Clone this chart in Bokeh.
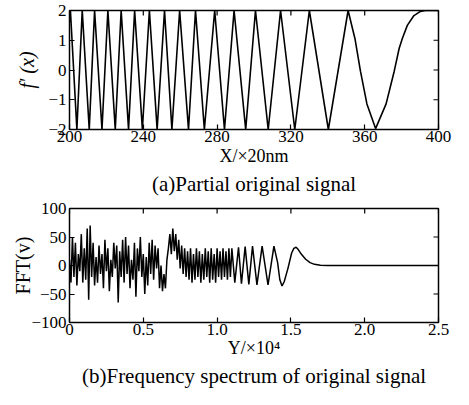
import math
from bokeh.plotting import figure
from bokeh.models import Range1d, FixedTicker, Title
from bokeh.layouts import column
from bokeh.embed import file_html
from bokeh.resources import INLINE

# ---------------- top panel: partial original signal ----------------
sig_x = [200.0, 200.5, 204.0, 206.9, 210.7, 213.6, 217.6, 220.8, 224.8, 228.0,
         232.0, 235.3, 239.5, 243.3, 247.5, 251.5, 255.5, 259.7, 264.5, 268.3,
         273.1, 278.7, 284.0, 289.2, 295.5, 300.8, 307.7, 314.4, 322.1, 330.0,
         340.3, 351.0, 354.7, 357.7, 361.2, 365.9, 371.6, 376.0, 378.7, 380.4,
         383.1, 386.7, 390.2, 392.9, 400.0]
sig_y = [1.6, 2.0, -2.0, 2.0, -2.0, 2.0, -2.0, 2.0, -2.0, 2.0,
         -2.0, 2.0, -2.0, 2.0, -2.0, 2.0, -2.0, 2.0, -2.0, 2.0,
         -2.0, 2.0, -2.0, 2.0, -2.0, 2.0, -2.0, 2.0, -2.0, 2.0,
         -2.0, 2.0, 1.06, -0.04, -1.14, -1.97, -1.14, -0.04, 0.73, 1.06,
         1.5, 1.83, 1.97, 2.0, 2.0]
top_xticks = [200, 240, 280, 320, 360, 400]
top_yticks = [-2, -1, 0, 1, 2]

# ---------------- bottom panel: frequency spectrum ----------------
fft_dense_step = 0.01
fft_dense_y = [10, -30, 50, -20, 40, -35, 20, -10, 55, -30,
               30, -25, 65, -60, 70, -20, 40, -35, 15, -30,
               35, -15, 20, -40, 45, -10, 30, -45, 10, -20,
               40, -5, 35, -65, 25, -20, 45, -30, 50, -15,
               35, -40, 10, -25, 40, -55, 30, -10, 50, -20,
               20, -50, 15, -35, 40, -15, 45, -25, 35, -5,
               30, -40, 0, -45, -15, -40, 10, 30, 55, 20,
               65, 25, 55, 10, 45, -5, 35, -15, 30, -20,
               25, -25, 30, -30, 20, -25, 30, -20, 25, -30,
               20, -25, 30, -20, 25, -30, 30, -25, 20, -30,
               30, -20, 25, -25, 30, -20, 25, -25, 30, -20,
               30]
fft_tail_x = [1.12, 1.145, 1.165, 1.19, 1.215, 1.24, 1.27, 1.305, 1.345, 1.385,
              1.41, 1.425, 1.44, 1.455, 1.48, 1.505, 1.52, 1.535, 1.55, 1.57,
              1.60, 1.63, 1.66, 1.70, 1.75, 2.5]
fft_tail_y = [-30, 32, -32, 33, -33, 34, -34, 34, -34, 34,
              5, -25, -36, -28, -5, 22, 30, 32, 28, 20,
              11, 5, 2, 0.5, 0, 0]
bot_xticks = [0, 0.5, 1.0, 1.5, 2.0, 2.5]
bot_xtick_labels = ["0", "0.5", "1.0", "1.5", "2.0", "2.5"]
bot_yticks = [-100, -50, 0, 50, 100]

FONT = "Liberation Serif"
TICK_FS = "17px"
XLABEL_FS = "18px"
YLABEL_FS = "20px"
CAP_FS = "21px"
TICK_LEN = 5


def style_axis(ax, ticks, label, label_fs, standoff, label_standoff, style="normal"):
    ax.ticker = FixedTicker(ticks=ticks)
    ax.major_tick_in = TICK_LEN
    ax.major_tick_out = 0
    ax.minor_tick_line_color = None
    ax.axis_line_color = None
    ax.major_tick_line_color = "black"
    ax.major_tick_line_width = 1.2
    ax.major_label_text_font = FONT
    ax.major_label_text_font_size = TICK_FS
    ax.major_label_text_color = "black"
    ax.major_label_standoff = standoff
    ax.axis_label = label
    ax.axis_label_text_font = FONT
    ax.axis_label_text_font_size = label_fs
    ax.axis_label_text_font_style = style
    ax.axis_label_text_color = "black"
    ax.axis_label_standoff = label_standoff


def mirror_ticks(p, xticks, yticks, xr, yr):
    # inward tick marks on the top and right edges of the frame
    p.ray(x=xticks, y=[yr.end] * len(xticks), length=TICK_LEN, length_units="screen",
          angle=-math.pi / 2, line_color="black", line_width=1.2)
    p.ray(x=[xr.end] * len(yticks), y=yticks, length=TICK_LEN, length_units="screen",
          angle=math.pi, line_color="black", line_width=1.2)


def base_fig(w, h, xr, yr, bl, br, bt):
    p = figure(width=w, height=h, x_range=xr, y_range=yr,
               output_backend="svg", toolbar_location=None,
               min_border_left=bl, min_border_right=br,
               min_border_top=bt, min_border_bottom=0)
    p.grid.visible = False
    p.outline_line_color = "black"
    p.outline_line_width = 1.5
    p.background_fill_color = "white"
    p.border_fill_color = "white"
    return p


def caption(p, text):
    p.add_layout(Title(text=text, align="center", text_font=FONT,
                       text_font_size=CAP_FS, text_font_style="normal",
                       text_color="black", standoff=3, offset=-11), "below")


# top figure
xr1, yr1 = Range1d(200, 400), Range1d(-2, 2)
p1 = base_fig(453, 197, xr1, yr1, 69, 13, 10)
p1.line(sig_x, sig_y, line_color="black", line_width=1.6)
style_axis(p1.below[0], top_xticks, "X/×20nm", XLABEL_FS, 1, 1)
style_axis(p1.left[0], top_yticks, "f′ (x)", YLABEL_FS, 3, 7, style="italic")
mirror_ticks(p1, top_xticks, top_yticks, xr1, yr1)
caption(p1, "(a)Partial original signal")

# bottom figure
dense_x = [round(i * fft_dense_step, 2) for i in range(len(fft_dense_y))]
xr2, yr2 = Range1d(0, 2.5), Range1d(-100, 100)
p2 = base_fig(453, 192, xr2, yr2, 69, 15, 11)
p2.line(dense_x + fft_tail_x, fft_dense_y + fft_tail_y, line_color="black", line_width=1.5)
style_axis(p2.below[0], bot_xticks, "Y/×10⁴", XLABEL_FS, 1, 0)
p2.below[0].major_label_overrides = {t: s for t, s in zip(bot_xticks, bot_xtick_labels)}
style_axis(p2.left[0], bot_yticks, "FFT(v)", YLABEL_FS, 3, -6)
mirror_ticks(p2, bot_xticks, bot_yticks, xr2, yr2)
caption(p2, "(b)Frequency spectrum of original signal")

layout = column(p1, p2)
open("out.html", "w").write(file_html(layout, INLINE))
